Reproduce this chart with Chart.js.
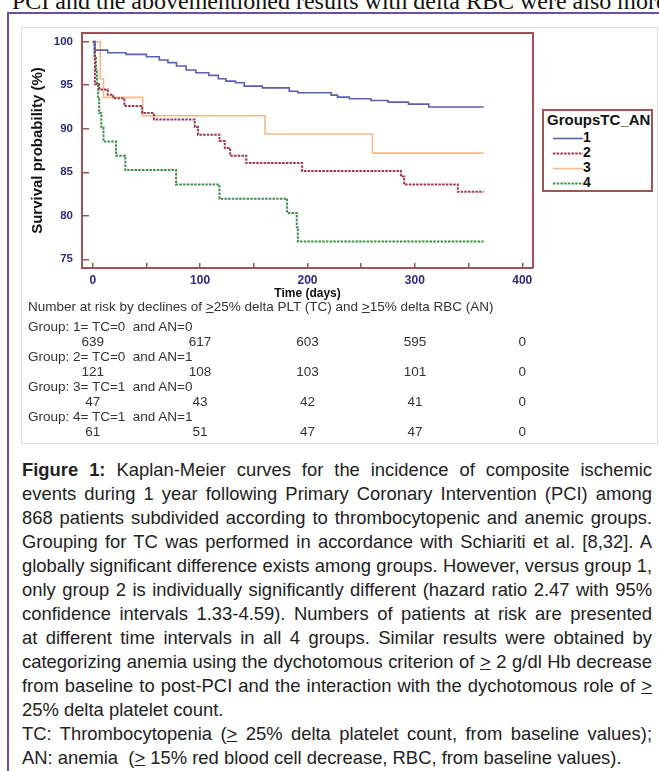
<!DOCTYPE html>
<html><head><meta charset="utf-8">
<script src="https://cdn.jsdelivr.net/npm/chart.js@4/dist/chart.umd.min.js"></script>
<style>
html,body{margin:0;padding:0;background:#fff;width:659px;height:771px;overflow:hidden;position:relative;font-family:"Liberation Sans",Arial,sans-serif;}
#toptext{position:absolute;left:12px;top:-11px;font-family:"Liberation Serif","Times New Roman",serif;font-size:24px;line-height:24px;white-space:nowrap;color:#111;}
#frame{position:absolute;left:7px;top:12px;width:720px;height:820px;border:2px solid #6c4f9e;box-sizing:border-box;}
#imgbox{position:absolute;left:21px;top:27px;width:637px;height:417px;border:1px solid #dedede;box-sizing:border-box;}
#chartwrap{position:absolute;left:0;top:0;width:659px;height:305px;}
#legend{position:absolute;left:542px;top:109px;width:111px;height:83px;border:2px solid #a05555;box-sizing:border-box;background:#fff;font-family:"Liberation Sans",Arial,sans-serif;font-weight:bold;color:#111;}
#legend .ttl{position:absolute;left:3px;top:0px;font-size:15px;line-height:17px;white-space:nowrap;}
#legend .row{position:absolute;left:9px;height:15px;font-size:14px;line-height:15px;}
#legend svg{position:absolute;left:0;top:7px;}
#legend .num{position:absolute;left:34px;top:0;}
.tbl{position:absolute;font-family:"Liberation Sans",Arial,sans-serif;font-size:13.5px;line-height:15px;color:#333;white-space:pre;}
.num{transform:translateX(-50%);}
.ge{text-decoration:underline;}
#caption{position:absolute;left:22px;top:458px;width:630px;font-family:"Liberation Sans",Arial,sans-serif;font-size:18.4px;color:#222;}
#caption .ln{height:24px;line-height:24px;white-space:nowrap;text-align:justify;text-align-last:justify;}
#caption .ln.last{text-align-last:left;}
</style></head>
<body>
<div id="toptext">PCI and the abovementioned results with delta RBC were also more</div>
<div id="frame"></div>
<div id="imgbox"></div>
<div id="chartwrap"><canvas id="c" width="659" height="305"></canvas></div>
<div id="legend"></div>
<div id="risk"></div>
<div id="caption">
<div class="ln"><b>Figure 1:</b> Kaplan-Meier curves for the incidence of composite ischemic</div>
<div class="ln">events during 1 year following Primary Coronary Intervention (PCI) among</div>
<div class="ln">868 patients subdivided according to thrombocytopenic and anemic groups.</div>
<div class="ln">Grouping for TC was performed in accordance with Schiariti et al. [8,32]. A</div>
<div class="ln">globally significant difference exists among groups. However, versus group 1,</div>
<div class="ln">only group 2 is individually significantly different (hazard ratio 2.47 with 95%</div>
<div class="ln">confidence intervals 1.33-4.59). Numbers of patients at risk are presented</div>
<div class="ln">at different time intervals in all 4 groups. Similar results were obtained by</div>
<div class="ln">categorizing anemia using the dychotomous criterion of <span class="ge">&gt;</span> 2 g/dl Hb decrease</div>
<div class="ln">from baseline to post-PCI and the interaction with the dychotomous role of <span class="ge">&gt;</span></div>
<div class="ln last">25% delta platelet count.</div>
<div class="ln">TC: Thrombocytopenia (<span class="ge">&gt;</span> 25% delta platelet count, from baseline values);</div>
<div class="ln last">AN: anemia &nbsp;(<span class="ge">&gt;</span> 15% red blood cell decrease, RBC, from baseline values).</div>
</div>
<script>
// ---- data ----
const groupNames = ['1', '2', '3', '4'];

const g1Time = [0, 2, 14, 31, 50, 62, 70, 78, 87, 96, 108, 117, 124, 133, 141, 158, 183, 191, 222, 228, 239, 259, 275, 294, 313, 364];
const g1Surv = [100, 99.03, 98.73, 98.54, 98.27, 97.9, 97.6, 97.2, 96.75, 96.44, 96.13, 95.74, 95.47, 95.29, 94.9, 94.7, 94.3, 94.14, 93.86, 93.63, 93.45, 93.25, 93.06, 92.83, 92.5, 92.5];

const g2Time = [0, 2, 6, 14, 19, 29.5, 46, 57, 95, 98, 118, 123, 128, 143, 195, 287, 290, 340, 364];
const g2Surv = [100, 95.1, 94.5, 93.9, 93.5, 92.6, 91.8, 91.07, 90.2, 89.3, 88.6, 87.8, 86.9, 86.05, 85.15, 84.5, 83.6, 82.75, 82.75];

const g3Time = [0, 7, 10, 46.5, 160.5, 260.5, 364];
const g3Surv = [100, 95.74, 93.6, 91.5, 89.4, 87.2, 87.2];

const g4Time = [0, 1.5, 3, 4, 5, 6, 8, 10, 21.7, 30.4, 77.6, 118, 181, 190, 191, 364];
const g4Surv = [100, 98.36, 96.72, 95.08, 93.44, 91.8, 90.16, 88.52, 86.89, 85.25, 83.6, 81.97, 80.33, 78.69, 77.05, 77.05];

const xTicks = [0, 100, 200, 300, 400];
const yTicks = [75, 80, 85, 90, 95, 100];

const riskTitle = 'Number at risk by declines of <span class="ge">&gt;</span>25% delta PLT (TC) and <span class="ge">&gt;</span>15% delta RBC (AN)';
const riskGroupLabels = ['Group: 1= TC=0  and AN=0', 'Group: 2= TC=0  and AN=1', 'Group: 3= TC=1  and AN=0', 'Group: 4= TC=1  and AN=1'];
const riskTimes = [0, 100, 200, 300, 400];
const risk1 = [639, 617, 603, 595, 0];
const risk2 = [121, 108, 103, 101, 0];
const risk3 = [47, 43, 42, 41, 0];
const risk4 = [61, 51, 47, 47, 0];

// ---- styles ----
const frameColor = '#a05257';
const tickColor = '#2b2b82';
const styles = [
  {color: '#5a60b0', dash: [], width: 1.6},
  {color: '#a3354a', dash: [2.5, 1.2], width: 2},
  {color: '#f4b98a', dash: [], width: 1.6},
  {color: '#3e8f4c', dash: [2.5, 1.2], width: 2}
];

const series = [[g1Time, g1Surv], [g2Time, g2Surv], [g3Time, g3Surv], [g4Time, g4Surv]];
const datasets = series.map((s, i) => ({
  label: groupNames[i],
  data: s[0].map((t, j) => ({x: t, y: s[1][j]})),
  borderColor: styles[i].color,
  borderDash: styles[i].dash,
  borderWidth: styles[i].width,
  stepped: true,
  pointRadius: 0,
  fill: false,
  tension: 0
}));

const framePlugin = {
  id: 'frameTR',
  afterDraw(chart) {
    const {ctx, chartArea: a} = chart;
    ctx.save();
    ctx.strokeStyle = frameColor;
    ctx.lineWidth = 2;
    ctx.beginPath();
    ctx.moveTo(a.left, a.top);
    ctx.lineTo(a.right, a.top);
    ctx.lineTo(a.right, a.bottom);
    ctx.stroke();
    ctx.restore();
  }
};

const chart = new Chart(document.getElementById('c'), {
  type: 'line',
  data: {datasets},
  options: {
    responsive: false,
    animation: false,
    layout: {padding: {left: 0, top: 33, right: 126, bottom: 0}},
    plugins: {legend: {display: false}, tooltip: {enabled: false}},
    scales: {
      x: {
        type: 'linear', min: -10, max: 410,
        afterFit: s => { s.height = 37; },
        border: {display: true, color: frameColor, width: 2},
        grid: {display: true, drawOnChartArea: false, drawTicks: true, tickLength: -5, color: frameColor, lineWidth: 1.5},
        ticks: {
          stepSize: 50, includeBounds: false, autoSkip: false, maxRotation: 0, padding: 10,
          color: tickColor, font: {family: '"Liberation Sans", Arial, sans-serif', size: 12, weight: 'bold'},
          callback: v => xTicks.includes(v) ? String(v) : ''
        },
        title: {display: true, text: 'Time (days)', color: '#111', padding: {top: 0, bottom: 4.5},
          font: {family: '"Liberation Sans", Arial, sans-serif', size: 12, weight: 'bold'}}
      },
      y: {
        type: 'linear', min: 74, max: 101,
        afterFit: s => { s.width = 82; },
        border: {display: true, color: frameColor, width: 2},
        grid: {display: true, drawOnChartArea: false, drawTicks: true, tickLength: -7, color: frameColor, lineWidth: 1.5},
        ticks: {
          stepSize: 5, includeBounds: false, autoSkip: false, padding: 16,
          color: tickColor, font: {family: '"Liberation Sans", Arial, sans-serif', size: 11.5, weight: 'bold'},
          callback: v => yTicks.includes(v) ? String(v) : ''
        },
        title: {display: true, text: 'Survival probability (%)', color: '#111', padding: {top: 29, bottom: 0},
          font: {family: '"Liberation Sans", Arial, sans-serif', size: 15, weight: 'bold'}}
      }
    }
  },
  plugins: [framePlugin]
});

// ---- legend (HTML, built from the datasets) ----
const leg = document.getElementById('legend');
let lh = '<div class="ttl">GroupsTC_AN</div>';
const legTops = [19, 34, 49, 64];
groupNames.forEach((g, i) => {
  const st = styles[i];
  lh += '<div class="row" style="top:' + legTops[i] + 'px"><svg width="30" height="3"><line x1="0" y1="1.5" x2="30" y2="1.5" stroke="' + st.color +
    '" stroke-width="' + st.width + '" stroke-dasharray="' + (st.dash.length ? st.dash.join(',') : 'none') + '"/></svg><span class="num">' + g + '</span></div>';
});
leg.innerHTML = lh;

// ---- number at risk table, columns placed by the chart's x scale ----
const xs = chart.scales.x;
const risk = document.getElementById('risk');
const rowsData = [risk1, risk2, risk3, risk4];
let rh = '<div class="tbl" style="left:28px;top:299px">' + riskTitle + '</div>';
const labelTops = [319, 349, 379, 409];
const numTops = [334, 364, 394, 424];
rowsData.forEach((r, i) => {
  rh += '<div class="tbl" style="left:28px;top:' + labelTops[i] + 'px">' + riskGroupLabels[i] + '</div>';
  r.forEach((v, j) => {
    rh += '<div class="tbl num" style="left:' + xs.getPixelForValue(riskTimes[j]).toFixed(1) + 'px;top:' + numTops[i] + 'px">' + v + '</div>';
  });
});
risk.innerHTML = rh;
</script>
</body></html>
